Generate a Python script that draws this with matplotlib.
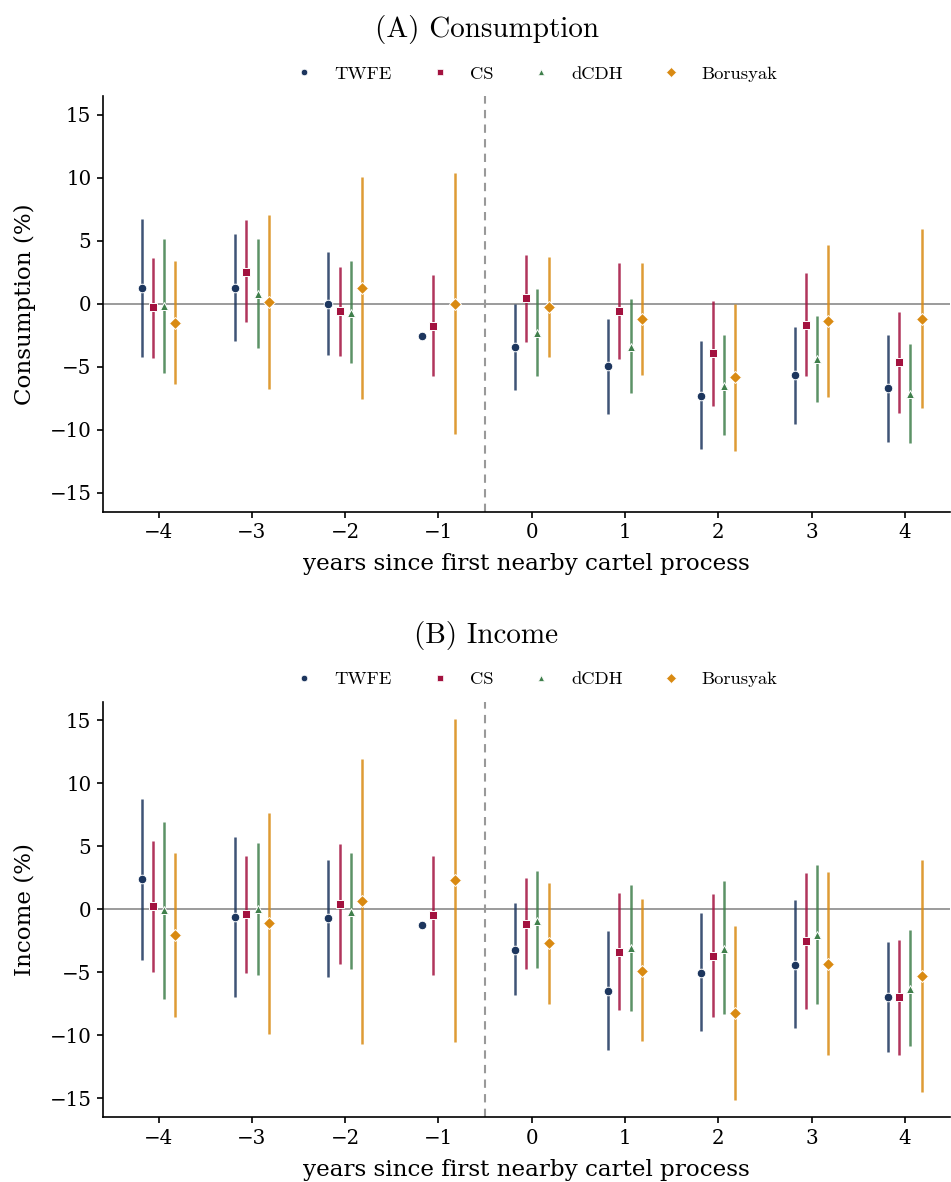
import numpy as np
import matplotlib
matplotlib.use("Agg")
import matplotlib.pyplot as plt
from matplotlib.lines import Line2D

# ---------------- data ----------------
periods = [-4, -3, -2, -1, 0, 1, 2, 3, 4]
methods = ["TWFE", "CS", "dCDH", "Borusyak"]
nan = np.nan

# Panel A: Consumption (%)
cons_twfe = [1.24, 1.24, 0.0, -2.59, -3.41, -4.97, -7.28, -5.69, -6.72]
cons_twfe_lo = [-4.23, -2.96, -4.07, nan, -6.88, -8.73, -11.51, -9.58, -10.98]
cons_twfe_hi = [6.72, 5.5, 4.07, nan, 0.0, -1.19, -2.99, -1.85, -2.51]
cons_cs = [-0.29, 2.54, -0.61, -1.77, 0.42, -0.58, -3.94, -1.67, -4.63]
cons_cs_lo = [-4.29, -1.48, -4.18, -5.77, -3.04, -4.37, -8.1, -5.71, -8.65]
cons_cs_hi = [3.62, 6.61, 2.94, 2.28, 3.86, 3.2, 0.24, 2.41, -0.63]
cons_dcdh = [-0.2, 0.77, -0.71, nan, -2.3, -3.41, -6.56, -4.42, -7.2]
cons_dcdh_lo = [-5.5, -3.54, -4.74, nan, -5.74, -7.06, -10.45, -7.78, -11.08]
cons_dcdh_hi = [5.1, 5.1, 3.36, nan, 1.16, 0.34, -2.51, -0.98, -3.23]
cons_bor = [-1.51, 0.13, 1.24, 0.0, -0.24, -1.24, -5.85, -1.4, -1.19]
cons_bor_lo = [-6.38, -6.8, -7.59, -10.37, -4.21, -5.69, -11.67, -7.43, -8.25]
cons_bor_hi = [3.41, 7.04, 10.05, 10.4, 3.68, 3.25, 0.0, 4.63, 5.9]

# Panel B: Income (%)
inc_twfe = [2.39, -0.58, -0.69, -1.25, -3.18, -6.45, -5.01, -4.4, -6.92]
inc_twfe_lo = [-3.98, -6.92, -5.36, nan, -6.79, -11.17, -9.63, -9.44, -11.3]
inc_twfe_hi = [8.73, 5.76, 3.95, nan, 0.5, -1.75, -0.32, 0.72, -2.6]
inc_cs = [0.24, -0.37, 0.42, -0.48, -1.14, -3.34, -3.69, -2.52, -6.98]
inc_cs_lo = [-4.93, -5.07, -4.32, -5.17, -4.75, -7.96, -8.57, -7.9, -11.54]
inc_cs_hi = [5.44, 4.27, 5.17, 4.24, 2.47, 1.33, 1.22, 2.89, -2.41]
inc_dcdh = [-0.05, 0.05, -0.19, nan, -0.88, -3.08, -3.13, -2.02, -6.31]
inc_dcdh_lo = [-7.11, -5.17, -4.72, nan, -4.64, -8.04, -8.33, -7.53, -10.82]
inc_dcdh_hi = [6.95, 5.28, 4.46, nan, 3.02, 1.94, 2.28, 3.55, -1.64]
inc_bor = [-2.04, -1.09, 0.64, 2.33, -2.68, -4.85, -8.25, -4.3, -5.28]
inc_bor_lo = [-8.57, -9.89, -10.69, -10.5, -7.51, -10.48, -15.12, -11.59, -14.48]
inc_bor_hi = [4.51, 7.67, 11.96, 15.15, 2.1, 0.82, -1.33, 2.97, 3.95]

# ---------------- style ----------------
colors = {"TWFE": "#1d365e", "CS": "#a3123f", "dCDH": "#3f7f4b", "Borusyak": "#d98a12"}
markers = {"TWFE": "o", "CS": "s", "dCDH": "^", "Borusyak": "D"}
msizes = {"TWFE": 6.2, "CS": 5.8, "dCDH": 5.4, "Borusyak": 6.4}
offsets = {"TWFE": -0.18, "CS": -0.06, "dCDH": 0.06, "Borusyak": 0.18}

plt.rcParams["font.family"] = "DejaVu Serif"
plt.rcParams["axes.unicode_minus"] = True

fig = plt.figure(figsize=(9.51, 11.82), dpi=100)

W, H = 951.0, 1182.0
ax_left = 102.7 / W
ax_width = (950.5 - 102.7) / W

panels = [
    dict(title="(A) Consumption", ylabel="Consumption (%)", top=95.8, bottom=511.7, title_y=29,
         legend_y=73.5,
         data={"TWFE": (cons_twfe, cons_twfe_lo, cons_twfe_hi),
               "CS": (cons_cs, cons_cs_lo, cons_cs_hi),
               "dCDH": (cons_dcdh, cons_dcdh_lo, cons_dcdh_hi),
               "Borusyak": (cons_bor, cons_bor_lo, cons_bor_hi)}),
    dict(title="(B) Income", ylabel="Income (%)", top=701.6, bottom=1117.3, title_y=635,
         legend_y=679,
         data={"TWFE": (inc_twfe, inc_twfe_lo, inc_twfe_hi),
               "CS": (inc_cs, inc_cs_lo, inc_cs_hi),
               "dCDH": (inc_dcdh, inc_dcdh_lo, inc_dcdh_hi),
               "Borusyak": (inc_bor, inc_bor_lo, inc_bor_hi)}),
]

x = np.array(periods, dtype=float)

for p in panels:
    ax = fig.add_axes([ax_left, 1 - p["bottom"] / H, ax_width, (p["bottom"] - p["top"]) / H])
    ax.axhline(0, color="#8a8a8a", lw=1.2, zorder=1)
    ax.axvline(-0.5, color="#999999", lw=1.5, ls=(0, (4, 3)), zorder=1)
    for m in methods:
        est, lo, hi = (np.array(a, dtype=float) for a in p["data"][m])
        xs = x + offsets[m]
        ax.vlines(xs, lo, hi, color=colors[m], lw=1.8, alpha=0.85, zorder=2)
        ax.plot(xs, est, ls="none", marker=markers[m], ms=msizes[m], color=colors[m],
                mec="white", mew=0.7, zorder=3)
    ax.set_xlim(-4.6, 4.49)
    ax.set_ylim(-16.5, 16.5)
    ax.set_xticks(periods)
    ax.set_yticks([-15, -10, -5, 0, 5, 10, 15])
    ax.tick_params(labelsize=14.3, length=4.6, width=1.2)
    for s in ["top", "right"]:
        ax.spines[s].set_visible(False)
    for s in ["left", "bottom"]:
        ax.spines[s].set_linewidth(1.2)
    ax.set_xlabel("years since first nearby cartel process", fontsize=16.6, labelpad=8)
    ax.set_ylabel(p["ylabel"], fontsize=16.6, labelpad=10)

    fig.text(486.5 / W, 1 - p["title_y"] / H, p["title"], family="cmr10", fontsize=21,
             ha="center", va="center")

    handles = [Line2D([], [], ls="none", marker=markers[m], color=colors[m], ms=msizes[m] * 0.75,
                      mec="white", mew=0.5) for m in methods]
    leg = ax.legend(handles, methods, loc="center", ncol=4, frameon=False,
                    bbox_to_anchor=(0.511, 1 + (p["top"] - p["legend_y"]) / (p["bottom"] - p["top"])),
                    prop={"family": "cmr10", "size": 13.4}, handletextpad=1.1, columnspacing=2.1,
                    handlelength=1.0)

fig.savefig("out.png", dpi=100)
